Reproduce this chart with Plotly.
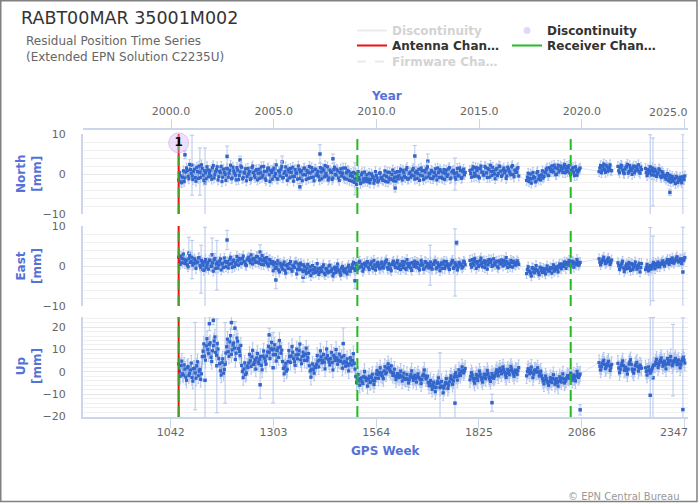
import plotly.graph_objects as go

# ---------------- data ----------------
SEG_START = [1062, 1802, 1946, 2130, 2178, 2248]   # GPS week of first sample in each data block
WEEK_STEP = 4      # main samples every 4 weeks, MID samples halfway between them

NORTH = [
    [-1.5, -0.4, -2.2, 0.8, -1.0, 1.5, -0.6, 2.4, 0.2, -1.4,
     1.2, -1.8, 0.6, 2.0, -0.9, 1.4, -1.6, 0.3, 1.8, -0.7,
     0.9, -1.3, 2.1, -0.2, 1.1, -1.5, 0.7, 1.9, -0.8, 0.4,
     -1.6, 1.3, 0.1, 2.2, -1.0, 0.8, -0.3, 1.6, -1.4, 0.5,
     1.7, -0.9, 0.2, -1.7, 1.4, 0.6, -1.1, 2.0, -0.4, 0.9,
     -1.5, 1.2, 0.3, -0.8, 1.9, -1.2, 0.7, 1.5, -1.9, 0.4,
     1.0, -0.6, 2.3, -1.3, 0.5, 1.2, -1.0, 0.2, 1.8, -1.6,
     0.6, 1.4, -0.7, -1.8, 1.1, 0.3, 2.0, -1.1, 0.8, -0.2,
     1.5, -1.4, 0.4, 1.9, -0.9, 0.7, -1.7, 1.2, 0.1, -0.6,
     1.6, -1.2, 0.9, 2.1, -0.5, -1.5, 1.0, 0.4, -1.0, 1.7,
     -0.3, 0.8, -1.6, 1.3, 0.2, -0.8, 1.5, -1.3, 0.6, -0.4,
     -1.8, 0.4, -1.2, -2.6, 0.6, -1.5, -0.2, -2.0, 0.5, -1.1,
     -1.9, 0.2, -1.4, -0.5, -2.3, 0.6, -1.0, -1.7, 0.3, -0.8,
     -1.6, 0.8, -0.6, -2.0, 0.4, -1.2, 1.0, -0.9, -1.8, 0.6,
     -0.4, 1.2, -1.5, 0.3, -0.9, 1.6, -1.2, 0.5, -0.3, 1.4,
     -1.3, 0.7, 0.1, -1.6, 1.5, -0.5, 0.9, -1.0, 1.8, 0.2,
     -1.1, 0.6, -0.7, 1.3, -1.5, 0.4, 1.1, -0.8, 0.3, -1.4,
     1.0, -0.2, 1.6, -1.0, 0.7, 0.1, -1.3, 1.4, -0.5, 0.9, -0.9, 1.2, 0.4],
    [0.9, -0.8, 1.8, 0.2, -0.5, 1.5, -1.0, 2.0, 0.4, -0.3,
     1.6, -0.9, 1.1, 2.2, -0.4, 0.7, -1.2, 1.4, 0.1, 1.9,
     -0.6, 1.0, 0.3, -1.1, 1.7, 0.6, -0.2, 2.1, -0.7, 0.8,
     1.3, -0.5],
    [-1.6, 0.2, -1.1, -2.3, 0.4, -0.9, -1.8, 0.6, -0.4, -1.5,
     0.8, -0.6, 0.3, 1.5, -0.4, 1.1, 2.0, 0.5, 1.6, -0.1,
     2.2, 0.9, 1.7, 0.4, 2.4, 1.2, 0.6, 2.1, -0.2, 1.3,
     0.4, 1.8, -0.3, 0.9, 1.5],
    [0.6, 2.1, 1.0, 2.5, 0.4, 1.8, 1.2, 2.3, 0.8],
    [1.9, 0.3, 2.2, 1.0, 0.1, 1.7, 2.4, 0.6, 1.4, -0.1, 2.0, 0.8, 1.5, 2.3, 0.2, 1.1],
    [1.4, -0.4, 0.9, 1.8, -0.2, 0.6, 1.2, -0.6, 0.3, 1.0, -0.9, 0.2, -0.3,
     -1.3, 0.1, -1.0, -2.0, -0.6, -1.5, -2.4, -0.9, -1.7, -0.8, -2.2, -1.2, -0.5],
]
NORTH_MID = [
    [0.3, -2.0, -0.8, -1.9, 0.5, 0.9, -1.2, 1.1, -0.5, 0.7,
     -0.9, 1.7, -1.1, 0.4, 2.3, -0.3, 0.8, -1.2, 1.0, 0.2,
     -0.5, 1.6, -1.0, 0.6, 1.8, -0.7, 0.3, -1.9, 1.2, -0.1,
     1.4, -0.8, 0.9, -1.2, 1.7, 0.2, -1.5, 1.0, -0.4, 2.0,
     -1.2, 0.5, 1.3, -0.6, 0.0, -1.4, 1.6, 0.4, -0.9, 1.1,
     0.2, -1.1, 1.8, -0.3, 0.6, -1.6, 1.3, -0.2, 0.9, -1.3,
     1.5, 0.1, -1.2, 0.8, -0.5, 1.9, -0.9, 0.6, -0.3, 1.2,
     -1.0, 0.4, 1.7, -0.6, 0.2, -1.3, 1.1, 0.5, -1.7, 1.4,
     -0.2, 0.9, -1.1, 0.3, 1.6, -0.8, 1.2, -0.4, 0.7, -1.5,
     0.5, 1.3, -0.7, 0.1, 1.8, -1.0, 0.6, -1.4, 1.1, -0.1,
     1.2, -1.0, 0.4, -0.5, 1.5, -1.2, 0.3, 0.9, -1.6, 0.2,
     -0.6, -2.1, 0.1, -1.4, -0.9, -2.4, 0.3, -1.2, -1.8, -0.2,
     -1.3, -2.2, 0.0, -0.9, -1.6, -0.4, -2.0, 0.2, -1.1, -1.5,
     -0.3, -1.9, 0.5, -1.0, -1.4, -0.1, -1.7, 0.4, -0.7, -1.2,
     0.6, -1.0, 0.9, -0.6, 1.1, -1.3, 0.2, -0.8, 1.0, -0.5,
     0.4, -1.1, 1.2, -0.3, 0.8, -1.4, 0.5, 1.3, -0.7, 0.1,
     0.9, -1.2, 0.3, -0.4, 1.5, -0.9, 0.7, -1.1, 1.1, 0.2,
     -0.6, 1.3, -1.2, 0.5, 0.9, -0.8, 0.3, -0.4, 1.5, -1.1, 0.6, -0.2],
    [0.1, 1.2, -0.6, 1.6, 0.9, -0.7, 1.3, 0.5, -0.2, 1.9,
     0.3, 1.4, -0.8, 0.6, 1.7, 0.0, 1.1, -0.4, 2.0, 0.7,
     -0.3, 1.5, 0.8, -0.5, 1.2, 0.2, 1.8, -0.1, 1.0, 0.4,
     1.6],
    [-0.8, -1.9, 0.0, -1.2, -0.6, -2.0, 0.3, -1.3, -0.7, -0.2,
     -1.0, 0.5, 1.1, -0.3, 1.6, 0.6, 1.0, 2.2, -0.2, 1.4,
     0.5, 2.0, 1.2, 1.7, 0.3, 1.9, 1.5, 0.2, 0.9, 1.6,
     -0.4, 1.0, 0.5, 1.2],
    [1.5, 0.3, 1.9, 1.1, 2.2, 0.7, 1.6, 0.9],
    [0.8, 1.6, 2.0, 0.4, 1.2, 1.8, 0.2, 2.1, 0.9, 1.5, 0.3, 1.9, 1.0, 0.6, 1.7],
    [0.4, 1.1, 0.2, 0.9, 1.5, -0.3, 0.7, 0.0, 1.3, -0.5, 0.6, -0.6, -0.9,
     -0.4, -1.7, -0.3, -1.2, -1.8, -1.1, -0.6, -2.1, -1.3, -1.6, -0.7, -1.4],
]

EAST = [
    [2.2, 0.4, 1.9, 3.0, 0.6, 1.5, -0.2, 2.6, 1.1, 0.2,
     1.8, -0.6, 1.0, 2.1, -0.3, 0.9, -1.1, 1.6, 0.3, -0.8,
     1.4, 0.0, -1.3, 1.9, 0.5, -0.5, 1.2, -1.0, 0.7, 2.0,
     -0.2, 1.1, 0.4, 2.2, -0.4, 1.5, 0.8, 2.4, 0.2, 1.7,
     0.6, 2.5, 1.0, 0.1, 2.0, 1.4, 2.8, 0.5, 1.8, 0.9,
     2.3, 0.7, 1.6, 2.6, 0.3, 1.2, 2.1, 0.0, 1.5, 0.6,
     -1.2, 0.9, -0.4, 1.3, -1.5, 0.2, -0.8, 1.0, -1.8, 0.4,
     -0.6, 1.1, -1.3, 0.0, 0.8, -2.0, 0.5, -0.9, 0.3, -1.4,
     -0.2, -1.9, 0.4, -1.2, -2.4, 0.1, -0.9, -1.6, 0.6, -2.1,
     -0.5, -1.4, 0.3, -2.2, -0.8, -1.7, 0.2, -1.1, -2.5, -0.3,
     -1.6, 0.5, -1.0, -2.3, -0.1, -1.5, -0.7, -2.0, 0.2, -1.3,
     -0.4, 0.9, -1.1, 0.3, -0.6, 1.2, -0.2, -1.3, 0.7, 0.0,
     1.1, -0.9, 0.4, -0.3, 1.4, -1.0, 0.6, 0.1, -0.7, 1.0,
     -0.5, 0.8, 1.5, -0.8, 0.2, -1.2, 0.9, 0.3, -0.4, 1.3,
     0.0, -0.9, 1.1, 0.4, -0.6, 1.6, -0.2, 0.7, -1.1, 0.5,
     1.2, -0.3, 0.6, -1.0, 1.4, 0.2, -0.7, 0.9, 0.3, -0.5,
     1.0, -0.8, 0.4, 1.3, -0.4, 0.1, -1.2, 0.8, 0.5, -0.6,
     1.1, 0.2, -0.9, 0.7, 1.4, -0.3, 0.4, -1.0, 0.9, 0.2, -0.5, 1.2, 0.3],
    [1.4, -0.3, 0.8, 1.9, -0.6, 1.1, 0.2, 2.0, -0.2, 1.3,
     0.5, -0.8, 1.6, 0.9, -0.1, 1.8, 0.3, 1.2, -0.5, 0.7,
     1.5, 0.0, 1.0, 2.1, -0.4, 0.6, 1.4, -0.3, 0.9, 0.2,
     1.3, 0.4],
    [-1.9, -0.2, -1.4, -2.5, -0.6, -1.7, 0.1, -1.2, -2.2, -0.5,
     -1.6, -0.9, -2.0, 0.0, -1.3, -0.4, -1.8, 0.3, -1.0, -0.2,
     -1.5, 0.5, -0.7, 0.2, 1.0, -0.6, 0.7, 1.4, 0.1, 1.2,
     -0.3, 0.8, 1.6, 0.2, 0.9],
    [1.8, 0.3, 1.4, 2.2, 0.6, 1.1, 2.0, 0.4, 1.5],
    [0.8, -0.9, 0.3, 1.2, -1.4, 0.0, -0.6, 0.9, -1.1, 0.4, -0.3, 1.0, -0.8, 0.2, -1.5, 0.6],
    [-0.9, 0.4, -1.2, 0.1, -0.4, 0.9, -0.7, 0.3, 1.0, -0.2,
     0.6, 1.3, 0.0, 0.9, 1.6, 0.4, 1.2, 2.0, 0.7, 1.5,
     2.3, 1.0, 1.8, 0.6, 1.4, 2.1],
]
EAST_MID = [
    [1.0, 2.5, 0.8, 1.7, 1.2, 0.3, 1.9, 0.9, 2.2, 0.6,
     1.3, 0.8, 2.0, 0.1, 1.4, 0.2, 1.0, -0.4, 0.9, 1.5,
     -0.1, 0.8, 1.6, -0.6, 1.0, 0.3, 1.8, 0.5, -0.4, 1.1,
     0.9, -0.5, 1.7, 0.6, 1.2, -0.1, 0.4, 1.3, 1.9, 0.7,
     1.9, 1.1, 0.4, 1.6, 2.2, 0.8, 1.5, 1.9, 1.2, 2.4,
     1.0, 1.8, 0.4, 1.3, 1.9, 0.9, 0.5, 1.6, 0.8, 1.1,
     0.3, -0.6, 0.5, -1.0, 0.7, -0.3, 0.4, -1.1, 0.1, -0.5,
     0.6, -0.8, 0.2, -0.4, 1.0, -0.9, -0.2, 0.7, -1.0, 0.3,
     -1.1, -0.5, -1.6, -0.2, -1.0, -1.8, -0.4, -1.3, -0.7, -1.5,
     -1.1, -0.2, -1.8, -0.6, -1.3, 0.0, -1.4, -0.7, -1.9, -0.9,
     -0.4, -1.2, -1.7, -0.5, -1.1, -0.9, -1.6, -0.3, -1.2, -0.6,
     0.3, -0.6, 0.6, -0.9, 0.9, -0.2, 0.4, -0.7, 0.2, 0.8,
     -0.4, 0.5, 1.0, -0.6, 0.3, -0.1, 0.9, -0.5, 0.6, -0.2,
     0.3, 1.1, -0.4, 0.6, -0.7, 0.4, 1.2, -0.3, 0.8, -0.6,
     0.5, 0.2, -0.4, 1.0, -0.9, 0.6, 0.3, -0.5, 0.9, -0.1,
     0.4, 0.9, -0.6, 0.2, 0.7, -0.8, 1.1, -0.2, 0.6, 0.1,
     -0.3, 0.5, 1.0, -0.7, 0.8, -0.2, 0.4, -0.6, 1.2, 0.0,
     0.6, -0.4, 0.3, 1.0, -0.6, 0.8, 0.1, -0.3, 0.7, 0.4, -0.2, 0.9],
    [0.4, 1.6, 0.2, 1.1, 0.7, -0.1, 1.4, 0.6, 0.9, -0.4,
     1.2, 0.3, 0.8, 1.5, 0.1, 0.7, 1.0, -0.2, 1.3, 0.5,
     0.8, 1.4, 0.3, 1.1, 0.6, -0.1, 0.9, 1.2, 0.4, 0.7,
     0.9],
    [-0.9, -1.2, -1.8, -0.4, -1.5, -0.8, -1.0, -1.7, -0.3, -1.2,
     -0.6, -1.5, -0.7, -0.9, -1.1, -0.6, -0.5, -1.3, -0.4, -0.8,
     0.0, -0.3, 0.5, -0.1, 0.4, 0.9, 0.2, 0.8, 0.5, 1.0,
     0.6, 0.3, 0.9, 0.5],
    [1.0, 0.9, 1.7, 1.3, 0.8, 1.6, 1.1, 0.9],
    [0.1, -0.2, 0.7, -0.5, -0.8, 0.5, 0.2, -0.4, 0.6, -0.9, 0.3, 0.0, -0.5, 0.7, -0.4],
    [-0.4, -0.6, -0.3, -0.8, 0.3, 0.0, 0.6, -0.2, 0.5, 0.4, 0.9, 0.5, 0.7,
     1.2, 0.8, 1.6, 0.9, 1.3, 1.1, 1.9, 1.4, 1.2, 1.5, 1.8, 1.6],
]

UP = [
    [3.5, -2.0, 4.8, -1.5, 1.2, -3.8, 2.4, -0.8, 3.9, -4.2,
     1.6, -2.9, 4.5, 0.3, -3.4, 6.8, 12.5, 5.2, 14.8, 8.1,
     13.0, 4.6, 11.7, 15.6, 7.4, 10.2, 3.6, -1.5, 5.8, 1.0,
     8.4, 14.6, 6.9, 16.2, 9.8, 12.9, 5.5, 15.1, 10.4, 7.2,
     2.8, -2.6, 4.0, -0.5, 1.9, 7.8, 2.4, 9.6, 4.1, 1.2,
     8.2, 3.6, 6.9, 0.9, 9.3, 4.7, 7.1, 11.4, 5.9, 13.2,
     7.6, 12.1, 4.8, 10.7, 14.0, 8.3, 4.6, -0.9, 3.8, 1.1,
     9.5, 4.2, 11.3, 6.0, 2.9, 10.1, 7.7, 12.4, 3.6, 8.8,
     5.1, 10.6, 6.4, 2.7, -2.4, 3.5, -0.6, 1.9, 7.3, 2.2,
     9.4, 4.0, 7.8, 1.3, 10.2, 5.6, 3.1, 8.7, 0.8, 6.5,
     10.0, 3.4, 7.9, 4.6, 1.6, 7.2, 2.5, 5.8, 0.4, 6.3,
     3.0, 8.1, 1.2, -4.8, -1.2, -6.0, -2.7, -5.3, 0.1, -3.9,
     -6.4, -2.0, -4.5, -1.1, -5.7, -2.8, 0.6, -2.9, 1.8, -0.4,
     -3.1, 2.3, -0.2, 3.6, 0.9, 2.7, -1.6, 1.2, -3.5, -0.8,
     -2.6, 0.3, -4.1, -0.6, -3.4, -1.2, -5.0, -2.2, 0.4, -3.8,
     -1.5, -4.6, -0.9, -2.9, -5.3, -1.8, 0.8, -3.2, -2.0, -6.2,
     -3.9, -7.8, -4.6, -8.9, -5.2, -2.7, -7.1, -4.3, -9.4, -5.9,
     -3.0, -7.4, -4.5, -1.8, -5.6, -2.4, -0.3, -3.7, 0.9, -1.6, 2.2, -0.5, 1.5],
    [-3.6, -0.4, -2.8, -5.1, -1.2, -3.9, 0.3, -2.4, -4.6, -1.0,
     -3.1, 0.6, -2.2, -4.3, -0.8, -2.9, -1.5, 0.9, -1.8, 1.6,
     -0.9, 2.2, -0.2, -2.5, 1.1, -1.3, 2.4, 0.2, -2.0, 0.8,
     -1.1, 1.9],
    [-1.8, 1.4, -0.9, 2.1, -2.6, 0.6, -0.2, 1.8, -1.9, 0.3,
     -3.0, -5.4, -1.9, -4.2, -6.1, -2.6, -4.8, -1.3, -5.6, -3.1,
     -6.4, -2.2, -4.6, -0.9, -5.0, -3.6, -1.7, -2.9, -0.6, -3.8,
     -1.4, -4.1, 0.2, -2.5, -1.0],
    [4.1, 0.8, 3.6, 5.2, 1.4, 2.9, 4.7, 0.6, 3.3],
    [3.8, -0.4, 2.6, 4.9, 0.7, 2.1, -1.0, 3.5, 5.4, 1.2, -0.6, 2.8, 4.2, 0.3, 3.0, 1.6],
    [1.8, -1.5, 2.2, -0.6, 0.9, 2.9, 3.1, 5.6, 1.9, 4.4,
     6.2, 2.5, 4.8, 1.3, 5.9, 3.4, 6.8, 2.7, 4.5, 6.0,
     3.2, 5.3, 1.8, 4.7, 6.5, 3.9],
]
UP_MID = [
    [0.2, 2.8, -0.9, 3.1, -2.4, 1.9, -1.7, 0.8, -2.6, 1.4,
     -0.5, 2.7, -1.8, 1.1, -0.9, 9.2, 7.0, 11.6, 9.9, 12.3,
     6.5, 9.4, 13.8, 8.7, 12.6, 5.9, 0.4, 4.2, -0.6, 3.3,
     11.2, 9.0, 13.4, 7.8, 12.0, 10.6, 8.3, 13.7, 9.1, 11.8,
     0.2, 1.3, -1.2, 2.6, 3.9, 4.9, 6.7, 3.3, 5.4, 6.2,
     4.4, 5.6, 2.9, 7.0, 6.1, 3.4, 8.9, 8.7, 10.3, 9.8,
     10.2, 7.7, 9.5, 6.4, 11.1, 9.7, 1.5, 2.2, 0.3, 4.6,
     6.8, 7.1, 8.7, 4.5, 7.5, 5.8, 9.4, 5.3, 6.9, 7.3,
     7.9, 5.0, 8.2, 0.4, 1.2, 0.9, 2.4, 3.4, 4.8, 5.3,
     6.7, 5.1, 4.3, 6.1, 7.2, 4.4, 5.9, 4.2, 7.4, 5.0,
     6.2, 5.1, 4.8, 6.6, 3.9, 4.5, 4.2, 2.9, 3.6, 4.9,
     5.0, 3.7, -2.1, -3.4, -4.0, -3.1, -4.4, -2.2, -2.5, -3.0,
     -3.3, -4.8, -2.6, -3.9, -4.1, -0.9, -1.2, -0.3, -1.5, -2.0,
     0.4, -0.9, 1.6, 1.9, 0.1, -0.3, -0.6, -1.9, -2.1, -1.4,
     -1.5, -2.1, -2.3, -2.9, -3.1, -3.3, -3.6, -1.3, -2.5, -2.4,
     -3.0, -2.2, -2.4, -3.6, -3.5, -1.1, -1.8, -2.6, -4.7, -4.8,
     -6.3, -5.6, -6.8, -7.0, -4.3, -5.0, -6.4, -6.6, -7.3, -4.8,
     -5.2, -6.0, -2.9, -3.5, -4.1, -1.2, -2.0, -1.9, -0.8, 0.1, 0.6, 0.4],
    [-2.0, -1.5, -3.9, -3.0, -2.6, -1.8, -1.1, -3.5, -2.7, -2.0,
     -1.2, -0.8, -3.2, -2.5, -1.9, -2.2, -0.3, -0.5, 0.2, 0.4,
     0.7, 1.0, -1.4, -0.6, 0.0, 0.6, 1.3, -0.9, -0.4, 0.3,
     0.5],
    [0.1, 0.3, 0.6, -0.3, -1.1, 0.9, 0.2, -0.1, -0.8, -1.7,
     -4.1, -3.6, -3.0, -5.0, -4.3, -3.7, -3.0, -3.3, -4.4, -4.8,
     -4.1, -3.5, -2.8, -3.1, -4.3, -2.6, -2.3, -1.8, -2.2, -2.6,
     -2.8, -1.9, -1.2, -1.7],
    [2.5, 2.2, 4.4, 3.3, 2.1, 3.8, 2.7, 1.9],
    [1.7, 1.1, 3.7, 2.8, 1.4, 0.6, 1.2, 4.4, 3.3, 0.3, 1.1, 3.5, 2.3, 1.6, 2.4],
    [0.2, 0.4, 0.8, 0.1, 1.9, 3.0, 4.3, 3.7, 3.2, 5.3, 4.3, 3.6, 3.1,
     3.6, 4.6, 5.1, 4.8, 3.6, 5.2, 4.6, 4.2, 3.5, 3.2, 5.6, 5.2],
]

# typical formal errors (mm)
ERR_N, ERR_E, ERR_U = 1.2, 1.2, 3.4

# points with large formal errors
N_OUT_WEEK = [1078, 1096, 1116, 1129, 1185, 1218, 1325, 1370, 1421, 1454, 1510, 1612, 1662, 1695, 1764, 2260, 2267, 2310, 2343]
N_OUT_VAL = [4.8, 2.2, 0.6, -2.2, 4.4, 3.5, 3.0, -3.2, 5.0, 3.8, -1.2, -3.5, 4.5, 3.2, 0.0, -0.2, 0.5, -4.6, -1.5]
N_OUT_ERR = [1.0, 7.5, 5.9, 8.7, 2.6, 1.0, 1.5, 0.8, 2.3, 1.2, 4.0, 1.0, 2.6, 1.8, 4.0, 10.0, 8.5, 0.8, 11.5]

E_OUT_WEEK = [1088, 1096, 1119, 1129, 1147, 1159, 1185, 1269, 1309, 1378, 1510, 1701, 1764, 1768, 2260, 2267, 2343]
E_OUT_VAL = [3.2, 1.6, -0.8, -0.8, 2.8, 0.2, 6.5, 3.5, -3.5, -2.8, -3.7, 0.2, 0.9, 5.8, -0.4, -0.6, -1.5]
E_OUT_ERR = [4.0, 4.8, 6.0, 10.5, 4.2, 6.2, 2.4, 1.8, 2.2, 1.2, 2.0, 5.0, 8.4, 0.6, 10.0, 8.1, 11.2]

U_OUT_WEEK = [1104, 1129, 1140, 1150, 1159, 1180, 1196, 1205, 1269, 1292, 1302, 1480, 1726, 1764, 1858, 2082, 2260, 2267, 2318, 2343]
U_OUT_VAL = [2.5, -3.8, 21.5, 23.0, 2.7, 4.0, 22.0, 19.5, -5.8, 16.5, 1.8, 12.6, -6.5, -14.0, -13.8, -17.0, -10.5, -2.7, 5.2, -16.9]
U_OUT_ERR = [19.5, 30.0, 3.0, 2.0, 21.0, 18.0, 3.0, 3.0, 6.0, 3.0, 15.7, 7.0, 15.0, 9.0, 3.8, 2.3, 35.0, 27.0, 16.0, 41.0]

ANTENNA_WEEKS = [1062]
RECEIVER_WEEKS = [1062, 1516, 2058]
DISC_WEEKS = [1062]
DISC_NORTH = [7.8]
DISC_LABELS = ["1"]

GPS_TICKS = [1042, 1303, 1564, 1825, 2086, 2347]
YEAR_TICKS = [2000, 2005, 2010, 2015, 2020, 2025]

X_RANGE = [819, 2356]
Y_RANGES = [[-10, 10], [-10, 10], [-20.2, 24.5]]


def week_to_year(w):
    return 1999.984 + (w - 1042) * 7 / 365.25


def expand(main, mid, gaps):
    weeks, vals = [], []
    for start, seg, mseg in zip(SEG_START, main, mid):
        for i, v in enumerate(seg):
            weeks.append(start + WEEK_STEP * i)
            vals.append(v)
            if i < len(mseg):
                weeks.append(start + WEEK_STEP * i + WEEK_STEP // 2)
                vals.append(mseg[i])
        if gaps:
            weeks.append(None)
            vals.append(None)
    return weeks, vals


# ---------------- styling ----------------
FONT = "DejaVu Sans"
BLUE = "#3366cc"
ERRC = "#b4c6ec"
TITLE_BLUE = "#5472d8"
AXLINE = "#ccd6eb"
RED = "#ee1111"
GREEN = "#22bb22"

fig = go.Figure()

comps = [
    (NORTH, NORTH_MID, ERR_N, N_OUT_WEEK, N_OUT_VAL, N_OUT_ERR, "x", "y"),
    (EAST, EAST_MID, ERR_E, E_OUT_WEEK, E_OUT_VAL, E_OUT_ERR, "x2", "y2"),
    (UP, UP_MID, ERR_U, U_OUT_WEEK, U_OUT_VAL, U_OUT_ERR, "x3", "y3"),
]

for k, (segs, mids, err, ow, ov, oe, xa, ya) in enumerate(comps):
    fig.add_trace(go.Scatter(
        x=ow, y=ov, xaxis=xa, yaxis=ya, mode="markers", showlegend=False,
        marker=dict(size=3.5, symbol="square", color=BLUE),
        error_y=dict(type="data", array=oe, color=ERRC, thickness=1, width=2),
        cliponaxis=False, hoverinfo="skip"))
    w, v = expand(segs, mids, False)
    fig.add_trace(go.Scatter(
        x=w, y=v, xaxis=xa, yaxis=ya, mode="lines", showlegend=False,
        line=dict(color="rgba(51,102,204,0.18)", width=1), hoverinfo="skip"))
    w, v = expand(segs, mids, True)
    fig.add_trace(go.Scatter(
        x=w, y=v, xaxis=xa, yaxis=ya, mode="lines+markers", showlegend=False,
        line=dict(color="rgba(51,102,204,0.40)", width=1),
        marker=dict(size=3.2, symbol="square", color=BLUE),
        error_y=dict(type="constant", value=err, color=ERRC, thickness=1, width=1),
        hoverinfo="skip"))

# change lines (antenna red solid, receiver green dashed)
for k, (xa, ya) in enumerate([("x", "y"), ("x2", "y2"), ("x3", "y3")]):
    lo, hi = Y_RANGES[k]
    for wk in ANTENNA_WEEKS:
        fig.add_trace(go.Scatter(x=[wk, wk], y=[lo, hi], xaxis=xa, yaxis=ya, mode="lines",
                                 line=dict(color=RED, width=2), showlegend=False, hoverinfo="skip"))
    for wk in RECEIVER_WEEKS:
        fig.add_trace(go.Scatter(x=[wk, wk], y=[lo, hi], xaxis=xa, yaxis=ya, mode="lines",
                                 line=dict(color=GREEN, width=2, dash="11px,5px"),
                                 opacity=0.8 if wk in ANTENNA_WEEKS else 1.0,
                                 showlegend=False, hoverinfo="skip"))

# discontinuity marker
fig.add_trace(go.Scatter(
    x=DISC_WEEKS, y=DISC_NORTH, xaxis="x", yaxis="y", mode="markers+text",
    text=DISC_LABELS, textposition="middle center",
    textfont=dict(family=FONT, size=12, color="#000000", weight="bold"),
    marker=dict(size=20, color="rgba(214,178,246,0.40)", line=dict(color="rgba(200,160,240,0.55)", width=1)),
    cliponaxis=False, showlegend=False, hoverinfo="skip"))


# legend entries (three rows)
def leg(name, legend, **kw):
    fig.add_trace(go.Scatter(x=[None], y=[None], name=name, legend=legend, hoverinfo="skip", **kw))


leg("<b><span style='color:#a8a8a8'>Discontinuity</span></b>", "legend", mode="lines",
    line=dict(color="#d8d8d8", width=2), visible="legendonly")
leg("<b>Discontinuity</b>", "legend", mode="markers",
    marker=dict(size=7, color="rgba(214,178,246,0.55)"))
leg("<b>Antenna Chan…</b>", "legend2", mode="lines", line=dict(color=RED, width=2))
leg("<b>Receiver Chan…</b>", "legend2", mode="lines", line=dict(color=GREEN, width=2))
leg("<b><span style='color:#a8a8a8'>Firmware Cha…</span></b>", "legend3", mode="lines",
    line=dict(color="#d8d8d8", width=2, dash="dash"), visible="legendonly")

# year axis carrier
fig.add_trace(go.Scatter(x=[week_to_year(X_RANGE[0]), week_to_year(X_RANGE[1])], y=[None, None],
                         xaxis="x4", yaxis="y", mode="markers", showlegend=False, hoverinfo="skip"))

# ---------------- layout ----------------
L, R, T, B = 83, 12, 129, 87
W, H = 700, 504
PW, PH = W - L - R, H - T - B


def px(xp):
    return (xp - L) / PW


def py(yp):
    return (H - B - yp) / PH


def yax(dom, rng):
    return dict(
        domain=dom, range=rng, autorange=False, dtick=10, tick0=0,
        showgrid=True, gridcolor="#e6e6e6", gridwidth=1, zeroline=False,
        minor=dict(dtick=2, showgrid=True, gridcolor="#f0f0f0", gridwidth=1),
        showline=True, linecolor=AXLINE, linewidth=2, ticks="",
        ticklabelstandoff=13, tickfont=dict(family=FONT, size=11, color="#666666"),
        automargin=False, fixedrange=True)


hidden_x = dict(matches="x3", showticklabels=False, showgrid=False, zeroline=False,
                showline=False, ticks="", automargin=False)

title_font = dict(family=FONT, size=12, color=TITLE_BLUE)
tick_font = dict(family=FONT, size=11, color="#666666")


def ann(text, x, y, angle=0, font=title_font, xanchor="center"):
    return dict(text=text, x=px(x), y=py(y), xref="paper", yref="paper", xanchor=xanchor,
                yanchor="middle", showarrow=False, textangle=angle, font=font)


leg_common = dict(orientation="h", xanchor="left", yanchor="top", bgcolor="rgba(0,0,0,0)",
                  font=dict(family=FONT, size=12, color="#333333"), entrywidth=110,
                  entrywidthmode="pixels", tracegroupgap=0)

# the last tick label of each x axis is drawn right-aligned inside the chart, as in the reference
gps_text = [str(t) for t in GPS_TICKS]
year_text = [f"{t:.1f}" for t in YEAR_TICKS]
last_gps, last_year = gps_text[-1], year_text[-1]
gps_text[-1] = ""
year_text[-1] = ""

fig.update_layout(
    width=W, height=H, template="none",
    margin=dict(l=L, r=R, t=T, b=B, pad=0),
    paper_bgcolor="white", plot_bgcolor="white",
    font=dict(family=FONT, color="#333333"),
    hovermode=False,
    xaxis=dict(anchor="y", **hidden_x),
    xaxis2=dict(anchor="y2", **hidden_x),
    xaxis3=dict(anchor="y3", domain=[0, 1], range=X_RANGE, autorange=False,
                tickmode="array", tickvals=GPS_TICKS, ticktext=gps_text, ticklabelstandoff=-5,
                showgrid=False, zeroline=False, showline=True, linecolor=AXLINE, linewidth=2,
                ticks="outside", ticklen=9, tickwidth=1, tickcolor=AXLINE,
                tickfont=tick_font, automargin=False),
    xaxis4=dict(overlaying="x", side="top", anchor="free", position=1.0,
                range=[week_to_year(X_RANGE[0]), week_to_year(X_RANGE[1])], autorange=False,
                tickmode="array", tickvals=YEAR_TICKS, ticktext=year_text,
                showgrid=False, zeroline=False, showline=True, linecolor=AXLINE, linewidth=2,
                ticks="outside", ticklen=9, tickwidth=1, tickcolor=AXLINE,
                tickfont=tick_font, automargin=False),
    yaxis=yax([py(214), py(134)], Y_RANGES[0]),
    yaxis2=yax([py(306), py(226)], Y_RANGES[1]),
    yaxis3=yax([0, py(317)], Y_RANGES[2]),
    legend=dict(x=px(352), y=py(16), **leg_common),
    legend2=dict(x=px(352), y=py(31), **leg_common),
    legend3=dict(x=px(352), y=py(47), **leg_common),
    annotations=[
        dict(text="RABT00MAR 35001M002", x=px(19), y=py(18), xref="paper", yref="paper",
             xanchor="left", yanchor="middle", showarrow=False,
             font=dict(family=FONT, size=17.5, color="#333333")),
        dict(text="Residual Position Time Series<br>(Extended EPN Solution C2235U)", x=px(24), y=py(48.5),
             xref="paper", yref="paper", xanchor="left", yanchor="middle", align="left", showarrow=False,
             font=dict(family=FONT, size=12, color="#666666")),
        dict(text="© EPN Central Bureau", x=px(681), y=py(496), xref="paper", yref="paper",
             xanchor="right", yanchor="middle", showarrow=False,
             font=dict(family=FONT, size=10, color="#999999")),
        ann("<b>North</b><br><b>[mm]</b>", 29, 174, -90),
        ann("<b>East</b><br><b>[mm]</b>", 29, 266, -90),
        ann("<b>Up</b><br><b>[mm]</b>", 29, 366, -90),
        ann("<b>GPS Week</b>", 386, 451),
        ann("<b>Year</b>", 386, 96),
        ann(last_gps, 690, 432.5, font=tick_font, xanchor="right"),
        ann(last_year, 690, 112, font=tick_font, xanchor="right"),
    ],
    shapes=[dict(type="rect", xref="paper", yref="paper", x0=px(0.75), x1=px(697), y0=py(501.5), y1=py(0.75),
                 line=dict(color="#808080", width=1.5), fillcolor="rgba(0,0,0,0)", layer="above")],
)

fig.write_html("out.html", config={"displayModeBar": False},
               post_script="document.body.style.margin='0px';")
